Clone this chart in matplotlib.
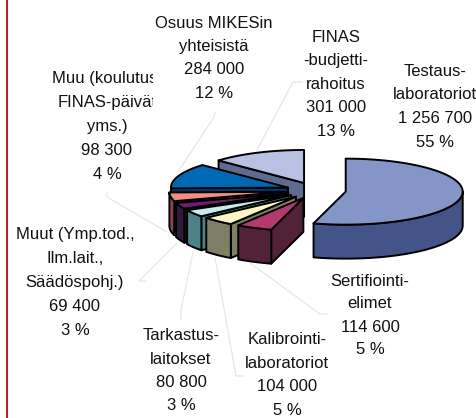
import numpy as np
import matplotlib
matplotlib.use('Agg')
import matplotlib.pyplot as plt
from matplotlib.patches import Rectangle

plt.rcParams['font.family'] = ['Liberation Sans', 'DejaVu Sans']

# arvot kuvasta, myötäpäivään klo 12:sta
names = [
    ['Testaus-', 'laboratoriot'],
    ['Sertifiointi-', 'elimet'],
    ['Kalibrointi-', 'laboratoriot'],
    ['Tarkastus-', 'laitokset'],
    ['Muut (Ymp.tod.,', 'Ilm.lait.,', 'Säädöspohj.)'],
    ['Muu (koulutus,', 'FINAS-päivät', 'yms.)'],
    ['Osuus MIKESin', 'yhteisistä'],
    ['FINAS', '-budjetti-', 'rahoitus'],
]
values = [1256700, 114600, 104000, 80800, 69400, 98300, 284000, 301000]
percents = [55, 5, 5, 3, 3, 4, 12, 13]

top_colors = ['#8496C8', '#B5386F', '#FCF6C4', '#C9EBEF', '#6B1F6B', '#F58C85', '#0069B4', '#B9C1E2']
side_colors = ['#435488', '#522238', '#7F7F66', '#4C8288', '#2F1B3A', '#8C4648', '#00396F', '#5F6B8F']

# tekstin paikka: keskikohta x, ensimmäisen rivin y, riviväli
label_pos = [
    (435, 71, 23.7), (370, 281, 23), (287, 340, 23.4), (181, 336, 23.2),
    (75, 235, 23.8), (107, 79, 23.8), (214, 23, 23.4), (336, 37, 23.6),
]
leaders = [
    [(215, 112), (214, 117), (178, 172)],
    [(302, 82), (293, 82), (257, 150)],
    [(107, 192), (107, 197), (167, 232)],
    [(146, 281), (139, 281), (177, 243)],
    [(181, 320), (181, 310), (193, 252)],
    [(243, 376), (236, 376), (215, 258)],
    [(328, 314), (320, 314), (250, 263)],
]

cx, cy = 316, 190.5
rx, ry = 117, 33
depth = 34
explode_x, explode_y = 30, 8.2

fig = plt.figure(figsize=(4.77, 4.18), dpi=100)
ax = fig.add_axes([0, 0, 1, 1])
ax.set_xlim(0, 477)
ax.set_ylim(418, 0)
ax.axis('off')

ax.add_patch(Rectangle((5.8, 0), 2.2, 418, color='#BE1E22', lw=0))

for line in leaders:
    xs, ys = zip(*line)
    ax.plot(xs, ys, color='#E4E4E4', lw=0.8, zorder=1)

edges = np.cumsum([0] + values) / sum(values) * 360


def arc(x0, y0, a, b):
    t = np.radians(np.linspace(a, b, 60))
    return x0 + rx * np.sin(t), y0 - ry * np.cos(t)


# takimmaiset ensin
for i in range(len(values) - 1, -1, -1):
    a, b = edges[i], edges[i + 1]
    mid = np.radians((a + b) / 2)
    x0 = cx + explode_x * np.sin(mid)
    y0 = cy - explode_y * np.cos(mid)
    kw = dict(facecolor=side_colors[i], edgecolor='black', lw=1.4, joinstyle='round', zorder=3)

    # leikkauspinta
    if a >= 180:
        ex, ey = arc(x0, y0, a, a)
        ax.fill([x0, ex[0], ex[0], x0], [y0, ey[0], ey[0] + depth, y0 + depth], **kw)

    # ulkoreuna
    lo, hi = max(a, 90), min(b, 270)
    if hi > lo:
        ax_, ay_ = arc(x0, y0, lo, hi)
        ax.fill(np.r_[ax_, ax_[::-1]], np.r_[ay_, ay_[::-1] + depth], **kw)

    # yläpinta
    tx, ty = arc(x0, y0, a, b)
    ax.fill(np.r_[x0, tx], np.r_[y0, ty], facecolor=top_colors[i], edgecolor='black',
            lw=1.4, joinstyle='round', zorder=3)

for i, rows in enumerate(names):
    x, y, step = label_pos[i]
    rows = rows + [f'{values[i]:,}'.replace(',', ' '), f'{percents[i]} %']
    for j, row in enumerate(rows):
        t = ax.text(x, y + j * step, row, ha='center', va='center', fontsize=12,
                    color='#111111', zorder=5)
        if i == 5:
            # alkuperäisessä teksti katkeaa reunaan
            t.set_clip_on(True)
            t.set_clip_path(Rectangle((0, 0), 153, 418, transform=ax.transData))

fig.savefig('out.png', dpi=100)
